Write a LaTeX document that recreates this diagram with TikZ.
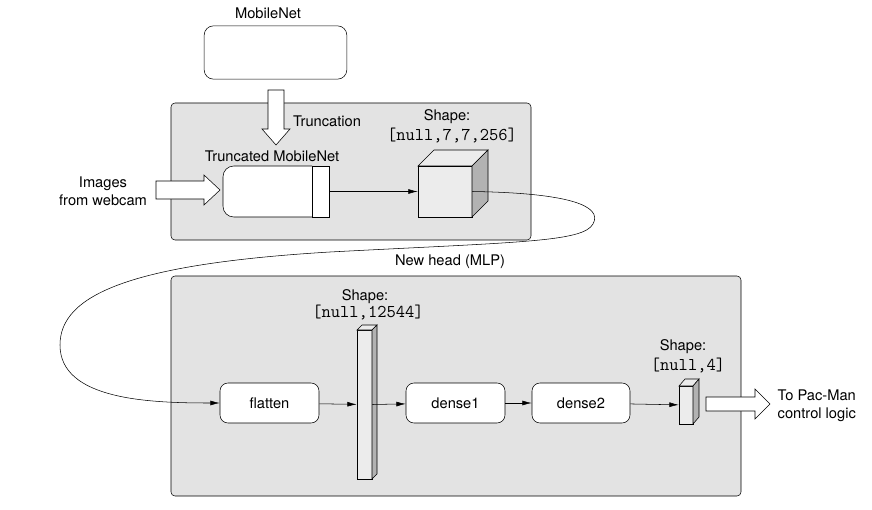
\documentclass[tikz,border=0pt]{standalone}
\usepackage{fontspec}
\setmainfont{TeX Gyre Heros}
\usetikzlibrary{arrows.meta,positioning}
\definecolor{panelgray}{RGB}{227,227,227}
\definecolor{facegray}{RGB}{236,236,236}
\definecolor{sidegray}{RGB}{178,178,178}

\begin{document}
\begin{tikzpicture}[x=0.75pt,y=-0.75pt,
  font=\fontsize{11}{13.2}\selectfont,
  >={Latex[length=7pt,width=3.6pt]},
  panel/.style={draw,fill=panelgray,rounded corners=3pt},
  layer/.style={draw,fill=white,rounded corners=6pt,minimum width=74.25pt,minimum height=30pt,inner sep=0pt},
  shapetxt/.style={font=\fontsize{13.5}{15}\selectfont\ttfamily},
  fatarrow/.style={draw,fill=white,line join=miter},
  face/.style={draw,fill=facegray}]
\useasboundingbox (0,0) rectangle (872,510);

% panels
\draw[panel] (171,103) rectangle (531,240);
\draw[panel] (171,276) rectangle (741,496);

% MobileNet
\node (mobilenetlbl) at (268,13) {MobileNet};
\node[draw,fill=white,rounded corners=7pt,minimum width=107pt,minimum height=40pt] (mobilenet) at (275.5,52.5) {};
\draw[fatarrow] (268,90) -- (284,90) -- (284,129) -- (290,129) -- (276,145) -- (262,129) -- (268,129) -- cycle;
\node (trunclbl) at (327,121) {Truncation};

% truncated MobileNet
\node (truncatedlbl) at (272,156) {Truncated MobileNet};
\node[minimum width=79.5pt,minimum height=38.25pt,inner sep=0pt] (truncated) at (276,191.5) {};
\draw[fill=white] (312,166) [rounded corners=8pt]-- (223,166) -- (223,217) [sharp corners]-- (312,217);
\draw[fill=white] (312,166) rectangle (329,217);
\node[align=center] (webcam) at (103,191) {Images\\from webcam};
\draw[fatarrow] (156,181) -- (204,181) -- (204,175) -- (220,190) -- (204,205) -- (204,199) -- (156,199) -- cycle;

% cube
\node[face,minimum width=40.5pt,minimum height=38.25pt,inner sep=0pt] (cube) at (445,191.5) {};
\draw[fill=facegray] (418,166) -- (434,150) -- (488,150) -- (472,166) -- cycle;
\draw[fill=sidegray] (472,166) -- (488,150) -- (488,201) -- (472,217) -- cycle;
\node (cubeshape) at (447,117) {Shape:};
\node[shapetxt] (cubedims) at (452,136) {[null,7,7,256]};

\draw[->] (truncated.east) -- (cube.west);

% new head
\node (headlbl) at (450,262) {New head (MLP)};
\node[layer] (flatten) at (269.5,403) {flatten};
\node[layer] (dense1) at (455.5,403) {dense1};
\node[layer,minimum width=73.5pt] (dense2) at (581,403) {dense2};

% flat vector
\node[face,minimum width=11.25pt,minimum height=111.75pt,inner sep=0pt] (flatvec) at (364.5,404.5) {};
\draw[fill=facegray] (357,330) -- (362,325) -- (377,325) -- (372,330) -- cycle;
\draw[fill=sidegray] (372,330) -- (377,325) -- (377,474) -- (372,479) -- cycle;
\node (flatshape) at (365,297) {Shape:};
\node[shapetxt] (flatdims) at (368,313) {[null,12544]};

% output vector
\node[face,minimum width=10.5pt,minimum height=28.5pt,inner sep=0pt] (outvec) at (686,405) {};
\draw[fill=facegray] (679,386) -- (685,379) -- (699,379) -- (693,386) -- cycle;
\draw[fill=sidegray] (693,386) -- (699,379) -- (699,417) -- (693,424) -- cycle;
\node (outshape) at (683,347) {Shape:};
\node[shapetxt] (outdims) at (688,366) {[null,4]};

\draw[->] (flatten) -- (flatvec);
\draw[->] (flatvec.east) -- (dense1);
\draw[->] (dense1) -- (dense2);
\draw[->] (dense2) -- (outvec);

\draw[fatarrow] (706,397) -- (755,397) -- (755,389) -- (770,404) -- (755,419) -- (755,411) -- (706,411) -- cycle;
\node[align=left,anchor=west] (pacman) at (773,406) {To Pac-Man\\control logic};

% loop from cube to flatten
\draw[->] (cube.east) .. controls (570,193) and (603,206) .. (593,224)
  .. controls (583,242) and (520,242) .. (330,252)
  .. controls (130,264) and (60,295) .. (60,345)
  .. controls (60,400) and (150,403) .. (flatten.west);
\end{tikzpicture}
\end{document}
